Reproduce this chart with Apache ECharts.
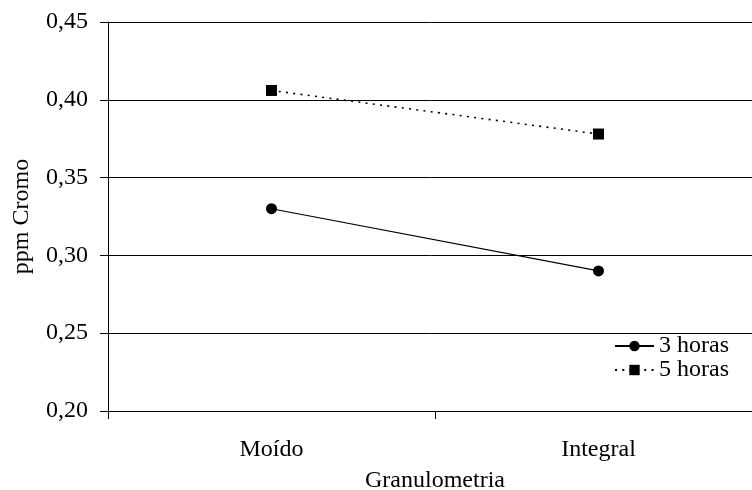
<!DOCTYPE html>
<html>
<head>
<meta charset="utf-8">
<script src="https://cdn.jsdelivr.net/npm/echarts@6/dist/echarts.min.js"></script>
<style>
html,body{margin:0;padding:0;background:#fff;}
#chart{width:752px;height:490px;}
</style>
</head>
<body>
<div id="chart"></div>
<script>
const categories = ['Moído', 'Integral'];
const horas3 = [0.330, 0.290];
const horas5 = [0.406, 0.378];
const seriesNames = ['3 horas', '5 horas'];
const xAxisTitle = 'Granulometria';
const yAxisTitle = 'ppm Cromo';

const FONT = 'Liberation Serif';
const chart = echarts.init(document.getElementById('chart'), null, {renderer: 'canvas'});
chart.setOption({
  animation: false,
  backgroundColor: '#ffffff',
  grid: {left: 108, top: 22, right: -10, bottom: 79, containLabel: false, outerBoundsMode: 'none'},
  legend: {
    orient: 'vertical',
    left: 614,
    top: 334,
    padding: 0,
    itemGap: 0,
    itemWidth: 39,
    itemHeight: 13,
    textStyle: {fontFamily: FONT, fontSize: 24, color: '#000', padding: [0, 0, 0, 0]},
    data: seriesNames
  },
  xAxis: {
    type: 'category',
    data: categories,
    boundaryGap: true,
    name: xAxisTitle,
    nameLocation: 'middle',
    nameGap: 58,
    nameTextStyle: {fontFamily: FONT, fontSize: 24, color: '#000'},
    axisLine: {show: true, lineStyle: {color: '#000', width: 1}},
    axisTick: {show: true, length: 8, inside: false, lineStyle: {color: '#000'}},
    axisLabel: {fontFamily: FONT, fontSize: 24, color: '#000', margin: 27},
    splitLine: {show: false}
  },
  yAxis: {
    type: 'value',
    min: 0.20,
    max: 0.45,
    interval: 0.05,
    name: yAxisTitle,
    nameLocation: 'middle',
    nameGap: 74,
    nameTextStyle: {fontFamily: FONT, fontSize: 24, color: '#000'},
    axisLine: {show: true, lineStyle: {color: '#000', width: 1}},
    axisTick: {show: true, length: 8, inside: false, lineStyle: {color: '#000'}},
    axisLabel: {fontFamily: FONT, fontSize: 24, color: '#000', margin: 20,
      formatter: v => v.toFixed(2).replace('.', ',')},
    splitLine: {show: true, lineStyle: {color: '#000', width: 1}}
  },
  series: [
    {
      name: seriesNames[0],
      type: 'line',
      data: horas3,
      symbol: 'circle',
      symbolSize: 11,
      itemStyle: {color: '#000'},
      lineStyle: {color: '#000', width: 1.2, type: 'solid'}
    },
    {
      name: seriesNames[1],
      type: 'line',
      data: horas5,
      symbol: 'rect',
      symbolSize: 11,
      itemStyle: {color: '#000'},
      lineStyle: {color: '#000', width: 1.6, type: [2, 5.3]}
    }
  ]
});
</script>
</body>
</html>
